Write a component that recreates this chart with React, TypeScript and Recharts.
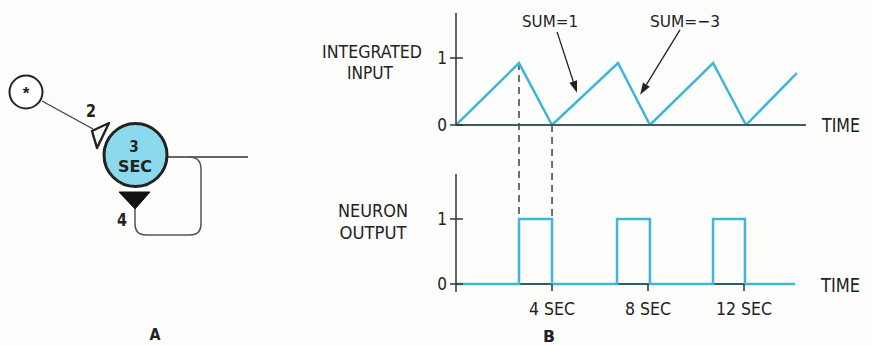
import React from 'react';
import { LineChart, Line, XAxis, YAxis, ReferenceLine } from 'recharts';

// ---- data ----
const inputTime = [0, 2.625, 4.0, 6.75, 8.08, 10.71, 12.08, 14.2];
const inputValue = [0, 0.925, 0, 0.925, 0, 0.925, 0, 0.776];
const outputTime = [0, 2.625, 4.0, 6.71, 8.08, 10.71, 12.04, 14.125];
const outputValue = [0, 1, 0, 1, 0, 1, 0, 0];
const yTicks = [0, 1];
const secTicks = [4, 8, 12];
const connectorTimes = [2.625, 4.0];
const connectorFrom = [0.925, 0];
const connectorTo = -1.4;
const sum1Arrow = [{ x: 4.21, y: 1.39 }, { x: 5.04, y: 0.48 }];
const sum3Arrow = [{ x: 9.33, y: 1.42 }, { x: 7.67, y: 0.45 }];

const topData = inputTime.map((t, i) => ({ t, v: inputValue[i] }));
const botData = outputTime.map((t, i) => ({ t, v: outputValue[i] }));

const FONT = "'Liberation Sans Narrow','DejaVu Sans Condensed','Liberation Sans',Arial,sans-serif";
const INK = '#222';
const CYAN = '#3db6da';

const YTick = (p: any) => {
  const { x, y, payload } = p;
  return (
    <g>
      <line x1={x - 6} x2={x + 7} y1={y} y2={y} stroke="#333" strokeWidth={1.5} />
      <text x={x - 9} y={y} dy="0.36em" textAnchor="end" fontSize={17} fontFamily={FONT} fill={INK}>
        {payload.value}
      </text>
    </g>
  );
};

const XTick = (p: any) => {
  const { x, y, payload } = p;
  const label = `${payload.value} SEC`;
  return (
    <g>
      <line x1={x} x2={x} y1={y - 8} y2={y - 1} stroke="#333" strokeWidth={1.5} />
      <text x={x} y={y + 23} textAnchor="middle" fontSize={18} fontFamily={FONT} fill={INK}
        textLength={label.length > 5 ? 56 : 46} lengthAdjust="spacingAndGlyphs">
        {label}
      </text>
    </g>
  );
};

const ArrowShape = (p: any) => {
  const { x1, y1, x2, y2 } = p;
  const dx = x2 - x1, dy = y2 - y1;
  const len = Math.hypot(dx, dy) || 1;
  const ux = dx / len, uy = dy / len;
  const L = 12, W = 4;
  const bx = x2 - ux * L, by = y2 - uy * L;
  return (
    <g>
      <line x1={x1} y1={y1} x2={bx} y2={by} stroke={INK} strokeWidth={1.3} />
      <polygon points={`${x2},${y2} ${bx - uy * W},${by + ux * W} ${bx + uy * W},${by - ux * W}`} fill={INK} />
    </g>
  );
};

const T = (props: any) => (
  <text fontFamily={FONT} fill={INK} {...props} lengthAdjust="spacingAndGlyphs" />
);

export default function App() {
  return (
    <div style={{ position: 'absolute', left: 0, top: 0, width: 872, height: 345, background: '#fdfdfb', overflow: 'hidden' }}>
      {/* labels and part A schematic */}
      <svg width={872} height={345} style={{ position: 'absolute', left: 0, top: 0 }}>
        {/* Part A */}
        <circle cx={26} cy={92} r={16.5} fill="#fff" stroke={INK} strokeWidth={2} />
        <text x={26} y={99} textAnchor="middle" fontSize={17} fontWeight="bold" fontFamily="Arial,sans-serif" fill={INK}>*</text>
        <line x1={42} y1={101} x2={93} y2={129} stroke="#444" strokeWidth={1.4} />
        <polygon points="92,131 109,123 97,148" fill="#fff" stroke={INK} strokeWidth={2.4} strokeLinejoin="round" />
        <T x={86} y={117} fontSize={18} fontWeight="bold" textLength={10}>2</T>
        <line x1={166} y1={157} x2={248} y2={157} stroke="#333" strokeWidth={1.5} />
        <path d="M 189 157 Q 201 157 201 169 L 201 224 Q 201 235 190 235 L 146 235 Q 135 235 135 224 L 135 205"
          fill="none" stroke="#555" strokeWidth={1.5} />
        <circle cx={135.5} cy={155} r={31.5} fill="#8bd9ec" stroke={INK} strokeWidth={3} />
        <T x={134} y={152} fontSize={15} fontWeight="bold" textAnchor="middle">3</T>
        <T x={135} y={172} fontSize={15} fontWeight="bold" textAnchor="middle" textLength={34}>SEC</T>
        <polygon points="119,192 150,192 135,209" fill="#111" stroke="#111" strokeWidth={1} strokeLinejoin="round" />
        <T x={117} y={226} fontSize={18} fontWeight="bold" textLength={10}>4</T>
        <T x={155} y={340} fontSize={16} fontWeight="bold" textAnchor="middle" textLength={11}>A</T>
        <T x={549} y={342} fontSize={16} fontWeight="bold" textAnchor="middle" textLength={12}>B</T>

        {/* Part B labels */}
        <T x={372} y={58} fontSize={18} textAnchor="middle" textLength={100}>INTEGRATED</T>
        <T x={370} y={79} fontSize={18} textAnchor="middle" textLength={46}>INPUT</T>
        <T x={373} y={217} fontSize={18} textAnchor="middle" textLength={70}>NEURON</T>
        <T x={373} y={239} fontSize={18} textAnchor="middle" textLength={67}>OUTPUT</T>
        <T x={522} y={27} fontSize={16} textLength={56}>SUM=1</T>
        <T x={650} y={27} fontSize={16} textLength={70}>SUM=−3</T>
        <T x={822} y={132} fontSize={19} textLength={38}>TIME</T>
        <T x={821} y={292} fontSize={19} textLength={39}>TIME</T>
      </svg>

      {/* Integrated input chart */}
      <div style={{ position: 'absolute', left: 0, top: 0 }}>
        <LineChart width={872} height={345} data={topData} margin={{ top: 13, left: 455, right: 66, bottom: 219 }}>
          <XAxis dataKey="t" type="number" domain={[0, 14.58]} allowDataOverflow height={1} tick={false} tickLine={false}
            axisLine={{ stroke: '#3f5c5c', strokeWidth: 2 }} />
          <YAxis type="number" domain={[0, 1.672]} allowDataOverflow ticks={yTicks} width={1} tickSize={0} tickMargin={0}
            tickLine={false} tick={<YTick />} axisLine={{ stroke: '#333', strokeWidth: 1.5 }} />
          {connectorTimes.map((t, i) => (
            <ReferenceLine key={i} ifOverflow="visible" segment={[{ x: t, y: connectorFrom[i] }, { x: t, y: connectorTo }]}
              stroke="#333" strokeWidth={1.4} strokeDasharray="7 5" />
          ))}
          <Line type="linear" dataKey="v" stroke={CYAN} strokeWidth={2.5} dot={false} isAnimationActive={false} />
          <ReferenceLine ifOverflow="visible" segment={sum1Arrow} shape={ArrowShape} />
          <ReferenceLine ifOverflow="visible" segment={sum3Arrow} shape={ArrowShape} />
        </LineChart>
      </div>

      {/* Neuron output chart */}
      <div style={{ position: 'absolute', left: 0, top: 0 }}>
        <LineChart width={872} height={345} data={botData} margin={{ top: 174, left: 455, right: 77, bottom: 52 }}>
          <XAxis dataKey="t" type="number" domain={[0, 14.125]} allowDataOverflow height={1} ticks={secTicks}
            tickSize={0} tickMargin={0} tickLine={false} axisLine={false} tick={<XTick />} />
          <YAxis type="number" domain={[-0.123, 1.692]} allowDataOverflow ticks={yTicks} width={1} tickSize={0} tickMargin={0}
            tickLine={false} tick={<YTick />} axisLine={{ stroke: '#333', strokeWidth: 1.5 }} />
          <ReferenceLine y={0} stroke="#2f5d66" strokeWidth={2} />
          <Line type="stepAfter" dataKey="v" stroke={CYAN} strokeWidth={2.5} dot={false} isAnimationActive={false} />
        </LineChart>
      </div>
    </div>
  );
}
